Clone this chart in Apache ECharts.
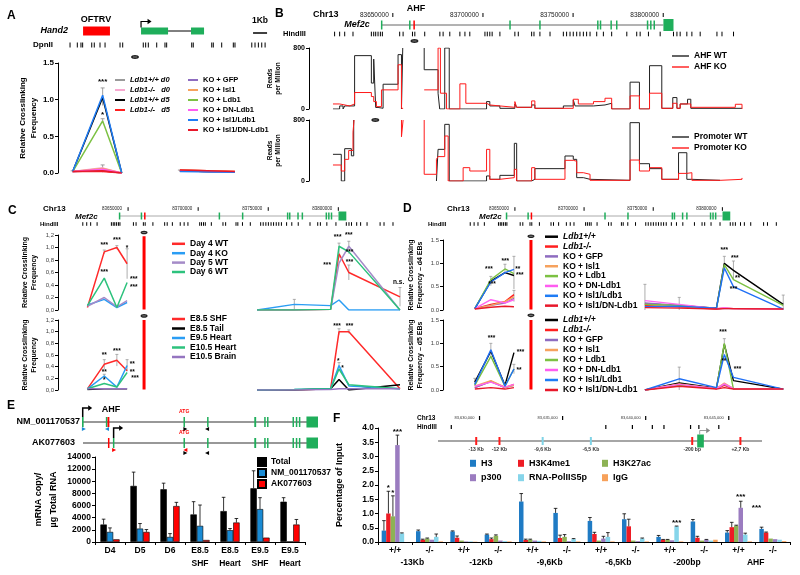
<!DOCTYPE html>
<html>
<head>
<meta charset="utf-8">
<title>Mef2c AHF enhancer figure</title>
<script src="https://cdn.jsdelivr.net/npm/echarts@6/dist/echarts.min.js"></script>
<style>
  html, body { margin: 0; padding: 0; background: #fff; }
  #chart { width: 800px; height: 575px; }
</style>
</head>
<body>
<div id="chart"></div>
<script>
const FONT = 'Liberation Sans, Arial, sans-serif';
const GREEN = '#1fae5b';

// ---------------- A: Hand2 locus, 3C (kb) ----------------
const aDpnII = [0.86, 1.38, 1.64, 1.76, 2.41, 2.59, 3.0, 3.36, 4.43, 4.62, 6.09, 6.26, 6.45, 7.05, 7.64, 7.76, 9.55, 9.66, 10.98, 11.09, 11.69, 12.52, 12.64, 13.84, 14.07, 14.31, 14.55, 14.79];
const aOftrv = [[1.79, 3.71]];
const aHand2Exons = [[5.93, 7.86], [9.5, 10.43]];
const aHand2Intron = [7.86, 9.5];
const aHand2Tss = 5.93;
const aScaleBar = [13.93, 14.93];
const aBait = 5.5;

const aX = [1.05, 3.19, 4.55, 8.71, 12.64];
const aNames = ['Ldb1+/+ d0', 'Ldb1-/-   d0', 'Ldb1+/+ d5', 'Ldb1-/-   d5', 'KO + GFP', 'KO + Isl1', 'KO + Ldb1', 'KO + DN-Ldb1', 'KO + Isl1/Ldb1', 'KO + Isl1/DN-Ldb1'];
const aValues = [
  [0.02, 0.03, 0.00, 0.03, 0.01],
  [0.02, 0.07, 0.00, 0.03, 0.01],
  [0.02, 1.03, 0.00, 0.03, 0.01],
  [0.02, 0.02, 0.00, 0.04, 0.02],
  [0.02, 0.04, 0.00, 0.03, 0.01],
  [0.02, 0.06, 0.00, 0.04, 0.02],
  [0.02, 0.71, 0.00, 0.03, 0.01],
  [0.02, 0.05, 0.00, 0.03, 0.01],
  [0.02, 1.06, 0.00, 0.02, 0.01],
  [0.02, 0.03, 0.00, 0.04, 0.02]
];
const aErrors = [[1.05, 0.02, 0.01], [3.19, 1.04, 0.12], [3.19, 0.71, 0.03], [3.19, 0.06, 0.05], [8.71, 0.03, 0.01]];
const aStars = [[3.19, 1.25, '***'], [3.19, 0.79, '*']];

// ---------------- Mef2c locus, shared by B, C, D (kb from 83,600,000) ----------------
const chrTicks = [50, 100, 150, 200];
const chrLabels = ['83650000', '83700000', '83750000', '83800000'];
const mef2cSpan = [43.8, 200.1];
const mef2cExons = [[43.4, 44.2], [59.0, 59.8], [114.6, 115.4], [131.2, 132.0], [163.3, 164.1], [164.8, 165.6], [170.7, 171.5], [173.8, 174.6], [190.9, 191.7], [192.7, 193.5], [194.6, 195.4]];
const mef2cLastExon = [[200.1, 205.7]];
const ahfSite = [[61.4, 62.2]];
const hindIII = [17.7, 20.5, 23.3, 27.9, 38.1, 39.4, 40.5, 41.8, 43.1, 44.2, 53.8, 55.7, 60.9, 62.2, 67.7, 76.1, 77.9, 81.6, 87.2, 90, 92.7, 101.1, 102.4, 103.8, 105.1, 109.4, 117.7, 119.6, 127, 128.3, 131.6, 137.2, 144.6, 146.4, 148.3, 150.1, 152, 153.8, 155.7, 157.5, 159.4, 163.1, 166.8, 171.4, 179.8, 185.3, 187.2, 191.8, 198.3, 205.7, 207.6, 209.4, 213.1, 215.9, 220.5, 229.8, 232.6, 239];

// ---------------- B: 4C-seq, reads per million (step segments, [kb, rpm]) ----------------
const bAhfBait = 62.0;
const bPromBait = 40.3;
const ahfWT = [
  [[16.8, 0], [20.5, 40], [22.4, 0], [23.3, 40], [28.8, 700], [38.1, 340], [39.4, 655], [40.5, 20], [41.8, 10], [44.6, 325], [52.9, 713], [54.8, 0], [55.5, 800]],
  [[67.4, 800], [67.4, 515], [75.1, 207], [76.0, 0], [78.8, 800], [81.3, 0], [102, 97], [103.8, 40], [109.4, 9], [117.7, 66], [118.7, 22], [127, 53], [128.8, 9], [144.6, 40], [150.1, 119], [151.1, 40], [161.3, 53], [167.7, 75], [171.4, 0], [181.6, 352], [186.8, 0], [192.4, 568], [199.2, 9], [205.3, 150], [207.6, 9], [209.4, 66], [213.5, 128], [215.3, 9], [243.7, 9]]
];
const ahfKO = [
  [[16.8, 66], [20.5, 40], [26.1, 66], [28.8, 216], [38.1, 163], [39.4, 97], [40.9, 31], [43.7, 251], [52.9, 580], [54.8, 9], [55.7, 9]],
  [[67.4, 251], [75.1, 800], [76.4, 207], [79.8, 0], [87.2, 330], [90.5, 75], [102, 53], [103.8, 40], [109.4, 22], [117.7, 97], [118.7, 22], [127, 106], [128.8, 9], [150.1, 128], [152.9, 66], [161.3, 97], [167.7, 141], [171.4, 0], [181.6, 172], [186.8, 0], [192.4, 207], [199.2, 9], [205.3, 75], [207.6, 9], [209.4, 66], [215.3, 22], [240, 62], [243.7, 0]]
];
const promWT = [
  [[16.8, 350], [21.4, 0], [23.3, 424], [27.0, 330], [28.3, 800]],
  [[74.2, 0], [75.1, 415], [78.8, 743], [81.3, 0], [102, 66], [103.8, 22], [109.4, 74], [117.4, 494], [118.7, 0], [127, 22], [128.8, 162], [145.5, 328], [150.1, 284], [152, 44], [155.7, 22], [159.4, 9], [181.6, 765], [186.8, 227], [192.4, 162], [199.2, 22], [208.5, 371], [213.1, 22], [215.9, 9], [231.6, 9]]
];
const promKO = [
  [[16.8, 210], [21.4, 131], [23.3, 284], [25.5, 400], [27.9, 640], [28.5, 800]],
  [[54.8, 800], [54.8, 580], [55.7, 580], [55.7, 800]],
  [[67.4, 800], [67.4, 88], [74.2, 285], [75.1, 320], [78.8, 590], [80.7, 0], [89.0, 175], [92.7, 131], [102, 415], [103.8, 22], [109.4, 44], [117.4, 153], [118.7, 0], [127, 175], [128.8, 22], [145.5, 271], [150.1, 260], [152, 109], [155.7, 88], [159.4, 9], [181.6, 275], [186.8, 131], [192.4, 175], [199.2, 22], [208.5, 100], [213.1, 109], [215.9, 9], [231.6, 22], [243.7, 40]]
];

// ---------------- C: 3C across Mef2c, EBs and embryos ----------------
const cX = [21, 33, 42, 49.3, 142, 168.6, 194.5, 200.5, 207.5, 244];
const cViewpoint = 61.4;
const cTopNames = ['Day 4 WT', 'Day 4 KO', 'Day 5 WT', 'Day 6 WT'];
const cTopValues = [
  [0.04, 0.93, 1.00, 0.74, 0.00, 0.00, 0.01, 0.90, 0.60, 0.21],
  [0.08, 0.17, 0.04, 0.12, 0.00, 0.09, 0.07, 0.16, 0.00, 0.00],
  [0.06, 0.20, 0.05, 0.15, 0.00, 0.00, 0.01, 0.75, 1.02, 0.00],
  [0.07, 0.51, 0.04, 0.44, 0.00, 0.00, 0.01, 1.02, 0.93, 0.00]
];
const cTopErrors = [[33, 0.93, 0.03], [42, 1.0, 0.03], [49.3, 0.74, 0.24], [168.6, 0.09, 0.08], [200.5, 0.95, 0.12], [207.5, 1.0, 0.1], [207.5, 0.6, 0.12], [244, 0.21, 0.15]];
const cTopStars = [[33, 1.04, '***'], [42, 1.12, '***'], [49.3, 0.99, '*'], [33, 0.6, '***'], [54, 0.49, '***'], [54, 0.37, '***'], [199.5, 1.16, '***'], [207.5, 1.19, '***'], [208, 0.93, '***'], [192, 0.72, '***'], [208, 0.76, '***'], [243, 0.44, 'n.s.']];

const cBotNames = ['E8.5 SHF', 'E8.5 Tail', 'E9.5 Heart', 'E10.5 Heart', 'E10.5 Brain'];
const cBotValues = [
  [0.02, 0.44, 0.51, 0.33, 0.00, 0.00, 0.02, 1.00, 1.00, 0.02],
  [0.01, 0.02, 0.02, 0.02, 0.00, 0.00, 0.02, 0.18, 0.00, 0.09],
  [0.02, 0.24, 0.05, 0.42, 0.00, 0.01, 0.02, 0.42, 0.07, 0.02],
  [0.02, 0.11, 0.05, 0.30, 0.00, 0.01, 0.02, 0.36, 0.09, 0.02],
  [0.02, 0.02, 0.02, 0.02, 0.00, 0.00, 0.01, 0.02, 0.02, 0.02]
];
const cBotErrors = [[33, 0.44, 0.08], [42, 0.51, 0.1], [49.3, 0.42, 0.1], [33, 0.24, 0.03], [200.5, 1.0, 0.05], [207.5, 1.0, 0.03], [200.5, 0.42, 0.05]];
const cBotStars = [[33, 0.6, '**'], [42, 0.66, '***'], [33, 0.31, '**'], [33, 0.17, '*'], [53, 0.44, '**'], [53, 0.3, '**'], [55, 0.2, '***'], [199, 1.1, '***'], [208, 1.1, '***'], [200, 0.5, '*'], [203, 0.38, '*']];

// ---------------- D: 3C in d4 / d5 EBs with rescue ----------------
const dX = [21, 32.6, 42.8, 49.3, 144, 168.8, 195.7, 201.4, 208, 244];
const dViewpoint = 61.6;
const dNames = ['Ldb1+/+', 'Ldb1-/-', 'KO + GFP', 'KO + Isl1', 'KO + Ldb1', 'KO + DN-Ldb1', 'KO + Isl1/Ldb1', 'KO + Isl1/DN-Ldb1'];
const dTopValues = [
  [0.03, 0.62, 0.80, 0.74, 0.13, 0.10, 0.04, 1.00, 0.85, 0.12],
  [0.03, 0.12, 0.18, 0.33, 0.10, 0.07, 0.02, 0.04, 0.03, 0.02],
  [0.03, 0.10, 0.15, 0.25, 0.15, 0.10, 0.03, 0.03, 0.03, 0.02],
  [0.03, 0.10, 0.18, 0.28, 0.12, 0.08, 0.03, 0.04, 0.03, 0.02],
  [0.03, 0.65, 0.88, 0.78, 0.12, 0.10, 0.03, 0.97, 0.65, 0.10],
  [0.03, 0.22, 0.15, 0.22, 0.20, 0.12, 0.03, 0.05, 0.03, 0.02],
  [0.03, 0.60, 0.80, 0.87, 0.07, 0.08, 0.04, 0.90, 0.50, 0.02],
  [0.02, 0.06, 0.08, 0.07, 0.05, 0.04, 0.02, 0.03, 0.03, 0.02]
];
const dTopErrors = [[49.3, 0.8, 0.35], [32.6, 0.62, 0.1], [42.8, 0.88, 0.1], [144, 0.2, 0.35], [168.8, 0.12, 0.15], [201.4, 1.0, 0.15], [208, 0.85, 0.2], [244, 0.12, 0.2], [49.3, 0.3, 0.12]];
const dTopStars = [[31.2, 0.88, '***'], [43, 1.05, '***'], [52, 0.88, '**'], [53.5, 0.74, '***'], [33.5, 0.55, '***'], [201.4, 1.29, '***'], [209, 1.12, '***'], [211, 0.69, '**'], [208, 0.45, '***']];

const dBotValues = [
  [0.17, 0.83, 0.10, 0.80, 0.00, 0.15, 0.04, 0.98, 0.20, 0.02],
  [0.05, 0.19, 0.05, 0.12, 0.00, 0.12, 0.03, 0.10, 0.03, 0.02],
  [0.05, 0.18, 0.05, 0.10, 0.00, 0.12, 0.03, 0.12, 0.03, 0.02],
  [0.08, 0.20, 0.06, 0.10, 0.00, 0.13, 0.03, 0.15, 0.03, 0.02],
  [0.10, 0.72, 0.08, 0.45, 0.00, 0.10, 0.03, 1.00, 0.02, 0.02],
  [0.08, 0.17, 0.06, 0.12, 0.00, 0.12, 0.03, 0.13, 0.03, 0.02],
  [0.12, 0.86, 0.08, 0.45, 0.00, 0.24, 0.05, 0.76, 0.27, 0.02],
  [0.02, 0.05, 0.02, 0.05, 0.00, 0.08, 0.02, 0.05, 0.02, 0.02]
];
const dBotErrors = [[32.6, 0.85, 0.15], [168.8, 0.24, 0.25], [201.4, 1.0, 0.1], [21, 0.17, 0.08], [49.3, 0.45, 0.1]];
const dBotStars = [[33.1, 1.1, '***'], [54, 0.8, '***'], [53, 0.42, '**'], [200.5, 1.23, '***'], [201, 0.61, '**'], [211, 0.45, '***']];

// ---------------- E: transcripts and qPCR ----------------
const eNmExons = [[0, 0.7], [10.1, 10.7], [43, 43.6], [53, 53.6], [73, 73.8], [77.2, 77.8], [78.4, 79], [89.2, 89.8], [90.6, 91.2], [91.9, 92.5]];
const eAkExons = [[13.1, 13.7], [43, 43.6], [53, 53.6], [73, 73.8], [77.2, 77.8], [78.4, 79], [89.2, 89.8], [90.6, 91.2], [91.9, 92.5]];
const eNmAhf = [[10.8, 11.6]];
const eAkAhf = [[11.0, 11.6]];
const eLastExon = [[95.1, 100]];
const eNmSpan = [0, 100];
const eAkSpan = [0.4, 100];
const eNmTss = 0.3;
const eAkTss = 13.4;
const eAtg = 43.3;
const eNmPrimersBlue = [[0.8, 1], [10.6, -1]];
const eNmPrimersBlack = [[43.8, 1], [53.0, -1]];
const eAkPrimersRed = [[13.6, 1], [43.8, -1]];
const eAkPrimersBlack = [[43.8, 1], [53.0, -1]];

const eCats = ['D4', 'D5', 'D6', 'E8.5\nSHF', 'E8.5\nHeart', 'E9.5\nSHF', 'E9.5\nHeart'];
const eTotal = [2880, 9240, 8690, 4540, 5090, 8850, 6640];
const eTotalErr = [880, 2270, 1000, 2100, 2270, 2880, 660];
const eNM = [1660, 2210, 830, 2660, 1940, 5420, 60];
const eNMErr = [660, 830, 550, 3430, 280, 1880, 0];
const eAK = [440, 1660, 5920, 330, 3210, 720, 2880];
const eAKErr = [0, 390, 610, 0, 660, 0, 830];

// ---------------- F: ChIP at Mef2c elements ----------------
const fChrTicks = [30, 35, 40, 45];
const fChrLabels = ['83,630,000', '83,635,000', '83,640,000', '83,645,000'];
const fHindIII = [28.3, 37.6, 39.2, 40.4, 41.1, 42.7, 43.2, 44.4];
const fSpan = [27.5, 47.0];
const fSitesRed = [29.8, 31.2, 42.8, 45.7];
const fSitesCyan = [33.8, 36.7];
const fSiteLabelPos = [29.8, 31.2, 33.8, 36.7, 42.8, 45.7];
const fSiteLabels = ['-13 Kb', '-12 Kb', '-9,6 Kb', '-6,5 Kb', '-200 bp', '+2,7 Kb'];
const fPromoter = [[43.1, 43.5]];

const fCats = ['+/+', '-/-', '+/+', '-/-', '+/+', '-/-', '+/+', '-/-', '+/+', '-/-', '+/+', '-/-'];
const fGroups = ['-13Kb', '-12Kb', '-9,6Kb', '-6,5Kb', '-200bp', 'AHF'];
const fNames = ['H3', 'H3K4me1', 'H3K27ac', 'p300', 'RNA-PolIIS5p', 'IgG'];
const fH3 = [0.40, 0.38, 0.37, 0.26, 1.42, 1.02, 0.74, 0.80, 0.18, 0.72, 0.33, 0.46];
const fH3Err = [0.35, 0.04, 0.02, 0.02, 0.28, 0.16, 0.12, 0.19, 0.05, 0.07, 0.07, 0.06];
const fK4 = [1.00, 0.08, 0.15, 0.10, 0.07, 0.14, 0.28, 0.55, 0.08, 0.15, 0.52, 0.33];
const fK4Err = [0.78, 0.02, 0.06, 0.04, 0.03, 0.10, 0.06, 0.25, 0.01, 0.05, 0.17, 0.02];
const fK27 = [0.90, 0.12, 0.05, 0.22, 0.08, 0.18, 0.05, 0.05, 0.08, 0.05, 0.57, 0.12];
const fK27Err = [0.72, 0.02, 0, 0.03, 0.02, 0.08, 0, 0, 0.01, 0, 0.02, 0];
const fP300 = [3.40, 0.08, 0.02, 0.05, 0.05, 0.03, 0.12, 0.03, 0.06, 0.08, 1.20, 0.10];
const fP300Err = [0.35, 0, 0, 0, 0, 0, 0.08, 0, 0, 0.01, 0.23, 0];
const fPol = [0.30, 0.18, 0.02, 0.03, 0.04, 0.10, 0.18, 0.12, 0.55, 0.05, 0.26, 0.08];
const fPolErr = [0.02, 0.10, 0, 0, 0, 0.02, 0.15, 0.02, 0.01, 0, 0.05, 0];
const fIgG = [0.00, 0.02, 0.01, 0.02, 0.02, 0.02, 0.02, 0.02, 0.02, 0.08, 0.02, 0.03];
const fStars = [[0, 1, 1.9, '*'], [0, 2, 1.72, '*'], [0, 3, 3.88, '***'], [8, 4, 0.68, '***'], [10, 3, 1.6, '***'], [10, 6.5, 1.2, '***']];

// ================= builders =================
const grid = [], xAxis = [], yAxis = [], series = [], legend = [];

function panel(rect, x, y) {
  grid.push(rect);
  const gi = grid.length - 1;
  xAxis.push(Object.assign({ gridIndex: gi, type: 'value', show: false }, x));
  yAxis.push(Object.assign({ gridIndex: gi, type: 'value', show: false }, y));
  return gi;
}
// gene-track grid: rows measured downward from the top of the track
function track(left, top, width, height, xmin, xmax) {
  return panel({ left, top, width, height }, { min: xmin, max: xmax }, { min: 0, max: height, inverse: true });
}
function add(gi, s) {
  series.push(Object.assign({ xAxisIndex: gi, yAxisIndex: gi, animation: false, silent: true }, s));
}
function font(size, weight, style) {
  return (style || '') + ' ' + (weight || 'bold') + ' ' + size + 'px ' + FONT;
}
function yVal(min, max, interval, fs, fmt, name, gap, nameFs, nameLh, bold) {
  return {
    show: true, min, max, interval,
    axisLine: { show: true, onZero: false, lineStyle: { color: '#000', width: 1 } },
    axisTick: { show: true, length: 3, lineStyle: { color: '#000' } },
    splitLine: { show: false },
    axisLabel: { fontFamily: FONT, fontSize: fs, fontWeight: bold === false ? 'normal' : 'bold', color: bold === false ? '#444' : '#000', margin: 4, formatter: fmt || (v => String(v)) },
    name, nameLocation: 'middle', nameGap: gap, nameRotate: 90,
    nameTextStyle: { fontFamily: FONT, fontSize: nameFs, fontWeight: 'bold', color: '#000', lineHeight: nameLh, align: 'center' }
  };
}
function boxes(gi, spans, row, h, color) {
  add(gi, {
    type: 'custom', z: 4, data: spans.map(s => [s[0], row, s[1]]),
    renderItem: (p, api) => {
      const a = api.coord([api.value(0), api.value(1)]);
      const b = api.coord([api.value(2), api.value(1)]);
      return { type: 'rect', shape: { x: a[0], y: a[1] - h / 2, width: Math.max(b[0] - a[0], 1.5), height: h }, style: { fill: color } };
    }
  });
}
function hline(gi, span, row, color, w) {
  add(gi, { type: 'line', data: [[span[0], row], [span[1], row]], symbol: 'none', lineStyle: { color, width: w }, z: 2 });
}
function ticks(gi, xs, row, half, color, w) {
  add(gi, {
    type: 'custom', z: 3, data: xs.map(x => [x, row]),
    renderItem: (p, api) => {
      const c = api.coord([api.value(0), api.value(1)]);
      return { type: 'line', shape: { x1: c[0], y1: c[1] - half, x2: c[0], y2: c[1] + half }, style: { stroke: color, lineWidth: w } };
    }
  });
}
function labels(gi, xs, texts, row, f, color, align, dx) {
  add(gi, {
    type: 'custom', z: 5, data: xs.map(x => [x, row]),
    renderItem: (p, api) => {
      const c = api.coord([api.value(0), api.value(1)]);
      return { type: 'text', x: c[0] + (dx || 0), y: c[1], style: { text: texts[p.dataIndex], font: f, fill: color, align, verticalAlign: 'middle' } };
    }
  });
}
function stars(gi, items, f) {
  add(gi, {
    type: 'custom', z: 6, data: items.map(s => [s[0], s[1]]),
    renderItem: (p, api) => {
      const c = api.coord([api.value(0), api.value(1)]);
      return { type: 'text', x: c[0], y: c[1], style: { text: items[p.dataIndex][2], font: f, fill: '#000', align: 'center', verticalAlign: 'middle' } };
    }
  });
}
function ovals(gi, pts, rx, ry) {
  add(gi, {
    type: 'custom', z: 6, data: pts,
    renderItem: (p, api) => {
      const c = api.coord([api.value(0), api.value(1)]);
      return { type: 'group', children: [
        { type: 'ellipse', shape: { cx: c[0], cy: c[1], rx, ry }, style: { fill: '#222' } },
        { type: 'line', shape: { x1: c[0] - rx * 0.5, y1: c[1], x2: c[0] + rx * 0.5, y2: c[1] }, style: { stroke: '#bbb', lineWidth: 0.6 } }
      ] };
    }
  });
}
function tss(gi, x, row, up, len, color, w) {
  add(gi, {
    type: 'custom', z: 5, data: [[x, row]],
    renderItem: (p, api) => {
      const c = api.coord([api.value(0), api.value(1)]);
      const top = c[1] - up, end = c[0] + len;
      return { type: 'group', children: [
        { type: 'polyline', shape: { points: [[c[0], c[1]], [c[0], top], [end - 2, top]] }, style: { stroke: color, lineWidth: w, fill: null } },
        { type: 'polygon', shape: { points: [[end + 1.5, top], [end - 2.5, top - 2.8], [end - 2.5, top + 2.8]] }, style: { fill: color } }
      ] };
    }
  });
}
function primers(gi, pts, row, color) {
  add(gi, {
    type: 'custom', z: 5, data: pts.map(pt => [pt[0], row, pt[1]]),
    renderItem: (p, api) => {
      const c = api.coord([api.value(0), api.value(1)]), d = api.value(2);
      return { type: 'polygon', shape: { points: [[c[0] - 2 * d, c[1] - 2], [c[0] + 2 * d, c[1]], [c[0] - 2 * d, c[1] + 2]] }, style: { fill: color } };
    }
  });
}
function errBars(gi, items, color, cap) {
  add(gi, {
    type: 'custom', z: 1, data: items,
    renderItem: (p, api) => {
      const x = api.value(0), y = api.value(1), e = api.value(2);
      const t = api.coord([x, y + e]), b = api.coord([x, Math.max(y - e, 0)]);
      return { type: 'group', children: [
        { type: 'line', shape: { x1: t[0], y1: t[1], x2: b[0], y2: b[1] }, style: { stroke: color, lineWidth: 0.8 } },
        { type: 'line', shape: { x1: t[0] - cap, y1: t[1], x2: t[0] + cap, y2: t[1] }, style: { stroke: color, lineWidth: 0.8 } }
      ] };
    }
  });
}
function curves(gi, xs, vals, name, color, split, w) {
  const pts = xs.map((x, i) => [x, vals[i]]);
  [pts.slice(0, split), pts.slice(split)].forEach(seg => add(gi, {
    type: 'line', name, color, data: seg, symbol: 'none', lineStyle: { color, width: w || 1.4 }, z: 2
  }));
}
function steps(gi, segs, name, color) {
  segs.forEach(seg => add(gi, {
    type: 'line', name, color, step: 'end', data: seg, symbol: 'none', lineStyle: { color, width: 1 }, z: 2
  }));
}
function viewpoint(gi, x, top) {
  add(gi, { type: 'line', data: [[x, 0.01], [x, top]], symbol: 'none', lineStyle: { color: '#ff0000', width: 3 }, z: 3 });
}
function barSet(gi, vals, errs, k, n, bw, name, color, border) {
  add(gi, {
    type: 'bar', name, data: vals, barWidth: bw, barGap: '0%', z: 2,
    itemStyle: { color, borderColor: border ? '#000' : color, borderWidth: border ? 0.6 : 0 }
  });
  const items = vals.map((v, i) => [i, v, errs[i]]).filter(d => d[2] > 0);
  add(gi, {
    type: 'custom', z: 3, data: items, encode: { x: 0, y: 1 },
    renderItem: (p, api) => {
      const i = api.value(0), v = api.value(1), e = api.value(2);
      const base = api.coord([i, v]);
      const x = base[0] + (k - (n - 1) / 2) * bw;
      const top = api.coord([i, v + e])[1];
      return { type: 'group', children: [
        { type: 'line', shape: { x1: x, y1: base[1], x2: x, y2: top }, style: { stroke: '#000', lineWidth: 0.8 } },
        { type: 'line', shape: { x1: x - 1.8, y1: top, x2: x + 1.8, y2: top }, style: { stroke: '#000', lineWidth: 0.8 } }
      ] };
    }
  });
}
function lineLegend(names, left, top, o) {
  legend.push({
    data: names.map(n => (typeof n === 'string' ? { name: n } : n)),
    left, top, orient: 'vertical', padding: 0, selectedMode: false, icon: o.icon || 'rect',
    itemWidth: o.w, itemHeight: o.h, itemGap: o.gap,
    textStyle: { fontFamily: FONT, fontSize: o.fs, fontWeight: 'bold', color: '#000', lineHeight: o.lh }
  });
}
function mef2cTrack(gi, rows, sz) {
  ticks(gi, chrTicks, rows.coord, sz.tick, '#000', 1);
  labels(gi, chrTicks, chrLabels, rows.coord, font(sz.coordFont, 'normal'), '#222', 'right', -sz.coordGap);
  hline(gi, mef2cSpan, rows.gene, sz.lineColor, 1);
  boxes(gi, mef2cExons, rows.gene, sz.exon, GREEN);
  boxes(gi, mef2cLastExon, rows.gene, sz.utr, GREEN);
  boxes(gi, ahfSite, rows.gene, sz.exon, '#ff0000');
  ticks(gi, hindIII, rows.site, sz.site, '#000', 1);
}

// ================= Panel A =================
const aColors = ['#9a9a9a', '#f7a8cf', '#000000', '#ff1f1f', '#8e6cc0', '#f6a25e', '#7cc143', '#ff5cf0', '#1f7cf5', '#e8182b'];
const gATrack = track(58, 10, 212, 50, 0, 15.14);
boxes(gATrack, aOftrv, 21, 9, '#ff0000');
boxes(gATrack, aHand2Exons, 21, 7, GREEN);
hline(gATrack, aHand2Intron, 21, '#000', 1);
tss(gATrack, aHand2Tss, 17.5, 6, 9, '#000', 1.2);
hline(gATrack, aScaleBar, 23, '#000', 1.5);
ticks(gATrack, aDpnII, 35, 2.5, '#000', 1);
ovals(gATrack, [[aBait, 47]], 4, 2);

const gA = panel({ left: 58, top: 63, width: 187, height: 110 }, { min: 0, max: 13.36 },
  yVal(0, 1.5, 0.5, 8, v => v.toFixed(1), 'Relative Crosslinking\nFrequency', 17, 8, 11));
errBars(gA, aErrors, '#888', 2);
aNames.forEach((n, i) => curves(gA, aX, aValues[i], n, aColors[i], 3, 1.5));
stars(gA, aStars, font(8));

// ================= Panel B =================
const gBTrack = track(309, 13, 433, 30, 3.5, 243.7);
mef2cTrack(gBTrack, { coord: 2, gene: 12, site: 21 }, { tick: 2, coordFont: 6.5, coordGap: 4, lineColor: '#666', exon: 9, utr: 12, site: 2.3 });
ovals(gBTrack, [[bAhfBait, 28]], 4, 2);

const bY = () => yVal(0, 800, 800, 7, null, 'Reads\nper Million', 9, 6.5, 8);
const gBTop = panel({ left: 309, top: 48, width: 433, height: 61 }, { min: 3.5, max: 243.7 }, bY());
steps(gBTop, ahfWT, 'AHF WT', '#222');
steps(gBTop, ahfKO, 'AHF KO', '#ff1a1a');
const gBBot = panel({ left: 309, top: 120, width: 433, height: 61 }, { min: 3.5, max: 243.7 }, bY());
steps(gBBot, promWT, 'Promoter WT', '#222');
steps(gBBot, promKO, 'Promoter KO', '#ff1a1a');
ovals(gBBot, [[bPromBait, 800]], 4, 2);

// ================= Panel C =================
const cTopColors = ['#ff2a2a', '#2a9df4', '#a58bc8', '#2dc27d'];
const cBotColors = ['#ff2a2a', '#000000', '#2a9df4', '#2dc27d', '#9575c0'];
const commaFmt = v => v.toFixed(1).replace('.', ',');
const gCTrack = track(58, 205, 342, 22, 0, 244);
mef2cTrack(gCTrack, { coord: 4, gene: 11, site: 19 }, { tick: 1.8, coordFont: 4.5, coordGap: 6, lineColor: '#aaa', exon: 7, utr: 9, site: 1.8 });

const gCTop = panel({ left: 58, top: 235, width: 342, height: 75 }, { min: 0, max: 244 },
  yVal(0, 1.2, 0.2, 6, commaFmt, 'Relative Crosslinking\nFrequency', 19, 7, 9, false));
errBars(gCTop, cTopErrors, '#999', 1.5);
cTopNames.forEach((n, i) => curves(gCTop, cX, cTopValues[i], n, cTopColors[i], 4, 1.5));
viewpoint(gCTop, cViewpoint, 1.18);
ovals(gCTop, [[cViewpoint, 1.24]], 3.5, 1.8);
stars(gCTop, cTopStars, font(6.5));

const gCBot = panel({ left: 58, top: 320, width: 342, height: 70 }, { min: 0, max: 244 },
  yVal(0, 1.2, 0.2, 6, commaFmt, 'Relative Crosslinking\nFrequency', 19, 7, 9, false));
errBars(gCBot, cBotErrors, '#999', 1.5);
cBotNames.forEach((n, i) => curves(gCBot, cX, cBotValues[i], n, cBotColors[i], 4, 1.5));
viewpoint(gCBot, cViewpoint, 1.2);
ovals(gCBot, [[cViewpoint, 1.27]], 3.5, 1.8);
stars(gCBot, cBotStars, font(6.5));

// ================= Panel D =================
const dColors = ['#000000', '#ff1f1f', '#8e6cc0', '#f6a25e', '#7cc143', '#ff66f0', '#1f6ff5', '#e8182b'];
const gDTrack = track(443, 205, 343, 22, -2, 246);
mef2cTrack(gDTrack, { coord: 4, gene: 11, site: 19 }, { tick: 1.8, coordFont: 4.5, coordGap: 6, lineColor: '#aaa', exon: 7, utr: 9, site: 1.8 });

const gDTop = panel({ left: 443, top: 240, width: 343, height: 70 }, { min: -2, max: 246 },
  yVal(0, 1.5, 0.5, 6, v => v.toFixed(1), 'Relative Crosslinking\nFrequency – d4 EBs', 18, 7, 9, false));
errBars(gDTop, dTopErrors, '#999', 1.5);
dNames.forEach((n, i) => curves(gDTop, dX, dTopValues[i], n, dColors[i], 4, 1.4));
viewpoint(gDTop, dViewpoint, 1.5);
ovals(gDTop, [[dViewpoint, 1.58]], 3.5, 1.8);
stars(gDTop, dTopStars, font(6.5));

const gDBot = panel({ left: 443, top: 320, width: 343, height: 70 }, { min: -2, max: 246 },
  yVal(0, 1.5, 0.5, 6, v => v.toFixed(1), 'Relative Crosslinking\nFrequency – d5 EBs', 18, 7, 9, false));
errBars(gDBot, dBotErrors, '#999', 1.5);
dNames.forEach((n, i) => curves(gDBot, dX, dBotValues[i], n, dColors[i], 4, 1.4));
viewpoint(gDBot, dViewpoint, 1.5);
ovals(gDBot, [[dViewpoint, 1.6]], 3.5, 1.8);
stars(gDBot, dBotStars, font(6.5));

// ================= Panel E =================
const gETrack = track(82, 400, 236, 56, 0, 100);
hline(gETrack, eNmSpan, 22, '#333', 1.2);
hline(gETrack, eAkSpan, 43, '#333', 1.2);
boxes(gETrack, eNmExons, 22, 10, GREEN);
boxes(gETrack, eNmAhf, 22, 10, '#ff0000');
boxes(gETrack, eLastExon, 22, 11, GREEN);
boxes(gETrack, eAkExons, 43, 10, GREEN);
boxes(gETrack, eAkAhf, 43, 10, '#ff0000');
boxes(gETrack, eLastExon, 43, 11, GREEN);
tss(gETrack, eNmTss, 17, 9, 8, '#000', 1.5);
tss(gETrack, eAkTss, 38, 10, 8, '#000', 1.5);
labels(gETrack, [eAtg], ['ATG'], 12, font(5), '#ff0000', 'center');
labels(gETrack, [eAtg], ['ATG'], 33, font(5), '#ff0000', 'center');
primers(gETrack, eNmPrimersBlue, 29, '#1a8bd4');
primers(gETrack, eNmPrimersBlack, 29, '#000');
primers(gETrack, eAkPrimersRed, 50, '#ff0000');
primers(gETrack, eAkPrimersBlack, 53, '#000');

const gE = panel({ left: 95, top: 457, width: 210, height: 85 },
  { type: 'category', data: eCats, show: true,
    axisLine: { show: true, lineStyle: { color: '#000' } },
    axisTick: { show: true, length: 3, lineStyle: { color: '#000' } },
    axisLabel: { interval: 0, fontFamily: FONT, fontSize: 8.5, fontWeight: 'bold', color: '#000', lineHeight: 13, margin: 2 },
    splitLine: { show: false } },
  yVal(0, 14000, 2000, 8.5, v => String(v), 'mRNA copy/\nµg Total RNA', 34, 9, 15));
barSet(gE, eTotal, eTotalErr, 0, 3, 6.4, 'Total', '#000000', true);
barSet(gE, eNM, eNMErr, 1, 3, 6.4, 'NM_001170537', '#1a8bd4', true);
barSet(gE, eAK, eAKErr, 2, 3, 6.4, 'AK077603', '#ff0000', true);

// ================= Panel F =================
const fColors = ['#1f7bc4', '#ee1c25', '#8db255', '#9b7cc0', '#86d5ea', '#f7a15a'];
const FBW = 4.5;
const gF = panel({ left: 378, top: 428, width: 412, height: 114 },
  { type: 'category', data: fCats, show: true, position: 'bottom',
    axisLine: { show: true, lineStyle: { color: '#000', width: 1.2 } },
    axisTick: { show: true, length: 3, lineStyle: { color: '#000' } },
    axisLabel: { interval: 0, fontFamily: FONT, fontSize: 8.5, fontWeight: 'bold', color: '#000', margin: 4 },
    splitLine: { show: false } },
  yVal(0, 4, 0.5, 8.5, v => v.toFixed(1), 'Percentage of Input', 33, 9, 11));
[[fH3, fH3Err], [fK4, fK4Err], [fK27, fK27Err], [fP300, fP300Err], [fPol, fPolErr], [fIgG, fIgG.map(() => 0)]]
  .forEach((d, k) => barSet(gF, d[0], d[1], k, 6, FBW, fNames[k], fColors[k], false));
add(gF, {
  type: 'custom', z: 6, data: fStars.map(s => [s[0], s[2], s[1]]), encode: { x: 0, y: 1 },
  renderItem: (p, api) => {
    const c = api.coord([api.value(0), api.value(1)]);
    return { type: 'text', x: c[0] + (api.value(2) - 2.5) * FBW, y: c[1], style: { text: fStars[p.dataIndex][3], font: font(8), fill: '#000', align: 'center', verticalAlign: 'middle' } };
  }
});

const gFTrack = track(438, 410, 324, 45, 27.5, 47.0);
ticks(gFTrack, fChrTicks, 8, 2, '#000', 1.2);
labels(gFTrack, fChrTicks, fChrLabels, 8, font(4, 'normal'), '#333', 'right', -5);
ticks(gFTrack, fHindIII, 17, 2, '#000', 1.2);
hline(gFTrack, fSpan, 31, '#888', 1.5);
boxes(gFTrack, fSitesRed.map(x => [x - 0.06, x + 0.06]), 31, 8, '#ff1a1a');
boxes(gFTrack, fSitesCyan.map(x => [x - 0.06, x + 0.06]), 31, 8, '#7fd3e6');
boxes(gFTrack, fPromoter, 31, 13, GREEN);
tss(gFTrack, 43.25, 24.5, 4, 9, '#888', 0.8);
labels(gFTrack, fSiteLabelPos, fSiteLabels, 40, font(5), '#333', 'center');

// F second-level category labels
xAxis.push({ gridIndex: gF, type: 'category', data: fGroups, position: 'bottom', offset: 8,
  axisLine: { show: false }, axisTick: { show: false }, splitLine: { show: false },
  axisLabel: { interval: 0, fontFamily: FONT, fontSize: 8.5, fontWeight: 'bold', color: '#000' } });

// ================= Legends =================
lineLegend(aNames.slice(0, 4).map(n => ({ name: n, textStyle: { fontStyle: 'italic' } })), 115, 75.5, { w: 10, h: 2, gap: 1, fs: 7.5, lh: 9 });
lineLegend(aNames.slice(4), 188, 75.5, { w: 10, h: 2, gap: 1, fs: 7.5, lh: 9 });
lineLegend(['AHF WT', 'AHF KO'], 672, 51, { w: 17, h: 1.4, gap: 1, fs: 8.5, lh: 10 });
lineLegend(['Promoter WT', 'Promoter KO'], 672, 132, { w: 17, h: 1.4, gap: 1, fs: 8.5, lh: 10 });
lineLegend(cTopNames, 172, 239.3, { w: 13, h: 2.5, gap: 0.4, fs: 8.5, lh: 8 });
lineLegend(cBotNames, 172, 314.5, { w: 13, h: 2.5, gap: 0.5, fs: 8.5, lh: 9 });
const dLegendNames = dNames.map((n, i) => (i < 2 ? { name: n, textStyle: { fontStyle: 'italic' } } : n));
lineLegend(dLegendNames, 545, 232.2, { w: 13, h: 2.5, gap: 0.85, fs: 8.5, lh: 9 });
lineLegend(dLegendNames, 545, 315.5, { w: 13, h: 2.5, gap: 1, fs: 8.5, lh: 9 });
lineLegend(['Total', 'NM_001170537', 'AK077603'], 257, 457, { w: 8, h: 8, gap: 1, fs: 8.5, lh: 10 });
lineLegend(['H3', 'p300'], 470, 458.3, { w: 6, h: 7, gap: 4.4, fs: 9, lh: 10 });
lineLegend(['H3K4me1', 'RNA-PolIIS5p'], 518, 458.3, { w: 6, h: 7, gap: 4.4, fs: 9, lh: 10 });
lineLegend(['H3K27ac', 'IgG'], 602, 458.3, { w: 6, h: 7, gap: 4.4, fs: 9, lh: 10 });

// ================= Free text =================
const texts = [
  ['A', 7, 15.5, font(12), 'left'], ['B', 275, 13.5, font(12), 'left'], ['C', 8, 210.5, font(12), 'left'],
  ['D', 403, 209, font(12), 'left'], ['E', 7, 406, font(12), 'left'], ['F', 333, 418.5, font(12), 'left'],
  ['OFTRV', 96, 20, font(9), 'center'], ['Hand2', 68, 31, font(9, 'bold', 'italic'), 'right'],
  ['DpnII', 33, 45, font(8), 'left'], ['1Kb', 260, 21, font(8.5), 'center'],
  ['Chr13', 313, 15, font(9), 'left'], ['AHF', 416, 9, font(9), 'center'],
  ['Mef2c', 357, 25, font(9, 'bold', 'italic'), 'center'], ['HindIII', 283, 34, font(7.5), 'left'],
  ['Chr13', 43, 209, font(8), 'left'], ['Mef2c', 75, 217, font(8, 'bold', 'italic'), 'left'], ['HindIII', 40, 224, font(6), 'left'],
  ['Chr13', 447, 209, font(8), 'left'], ['Mef2c', 479, 217, font(8, 'bold', 'italic'), 'left'], ['HindIII', 428, 224, font(6), 'left'],
  ['NM_001170537', 80, 422, font(9), 'right'], ['AK077603', 75, 443, font(9), 'right'], ['AHF', 111, 410, font(9), 'center'],
  ['Chr13', 417, 418, font(6.5), 'left'], ['HindIII', 417, 427, font(6.5), 'left']
];
const graphic = texts.map(t => ({
  type: 'text', x: t[1], y: t[2], silent: true,
  style: { text: t[0], font: t[3], fill: '#000', align: t[4], verticalAlign: 'middle' }
}));

const chart = echarts.init(document.getElementById('chart'), null, { renderer: 'canvas' });
chart.setOption({
  animation: false,
  backgroundColor: '#fff',
  textStyle: { fontFamily: FONT },
  grid, xAxis, yAxis, series, legend, graphic
});
</script>
</body>
</html>
